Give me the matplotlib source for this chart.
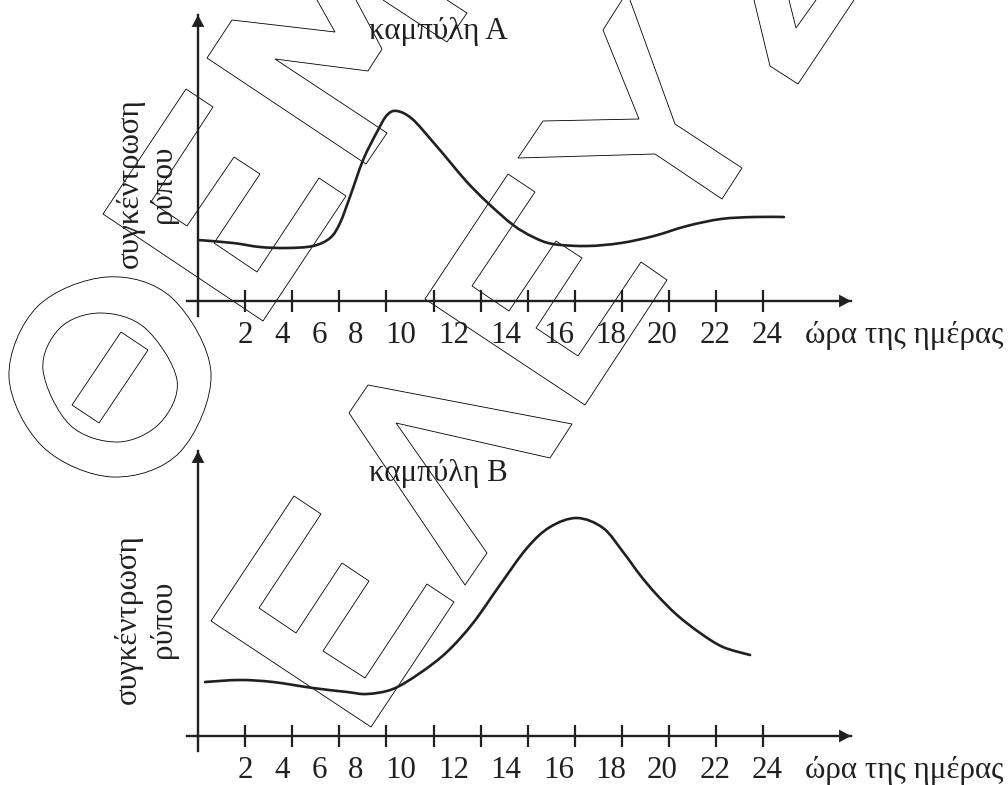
import matplotlib
matplotlib.use("Agg")
import matplotlib.pyplot as plt
from matplotlib.patches import Polygon, PathPatch
from matplotlib.path import Path

plt.rcParams['font.family'] = ['Liberation Serif', 'DejaVu Serif']

# curve values, hours along the axis and concentration (arbitrary units)
hours_a = [0.0, 1.49, 2.63, 3.78, 4.88, 5.61, 6.03, 6.45, 7.01, 7.6, 8.03, 8.45, 9.1, 9.98,
           10.7, 11.42, 12.31, 13.38, 14.23, 15.07, 16.52, 17.96, 19.36, 20.76, 22.21, 23.61, 24.88]
conc_a = [6.1, 5.8, 5.4, 5.3, 5.5, 6.3, 7.8, 10.4, 14.1, 16.9, 18.6, 19.0, 18.2, 15.9,
          13.9, 11.9, 9.8, 7.6, 6.4, 5.7, 5.5, 5.8, 6.5, 7.5, 8.2, 8.4, 8.4]
hours_b = [0.3, 1.78, 3.18, 4.88, 6.33, 7.18, 8.28, 9.43, 10.57, 11.68, 12.82, 13.97, 14.95,
           16.09, 17.2, 18.05, 18.77, 19.49, 20.34, 21.32, 22.29, 23.44]
conc_b = [5.4, 5.6, 5.4, 4.8, 4.4, 4.2, 4.7, 6.3, 8.4, 11.3, 15.1, 18.8, 20.9,
          21.8, 20.8, 18.4, 16.1, 14.1, 12.1, 10.3, 8.9, 8.1]

tick_hours = [2, 4, 6, 8, 10, 12, 14, 16, 18, 20, 22, 24]
tick_labels = ['2', '4', '6', '8', '10', '12', '14', '16', '18', '20', '22', '24']
# the labels in the picture do not sit under their ticks
label_shift = [2.0, 3.57, 5.14, 6.71, 8.62, 10.87, 13.05, 15.33, 17.54, 19.71, 21.97, 24.17]

W, H = 1008, 785
DARK = '#231f20'
PX_HOUR = 23.55
FS = 22.3


def smooth_path(pts, closed=False):
    # bezier pieces through the given points (catmull-rom handles)
    n = len(pts)
    verts = [pts[0]]
    codes = [Path.MOVETO]
    last = n if closed else n - 1
    for i in range(last):
        if closed:
            p0, p1, p2, p3 = pts[i - 1], pts[i], pts[(i + 1) % n], pts[(i + 2) % n]
        else:
            p0, p1, p2, p3 = pts[max(i - 1, 0)], pts[i], pts[i + 1], pts[min(i + 2, n - 1)]
        c1 = (p1[0] + (p2[0] - p0[0]) / 6, p1[1] + (p2[1] - p0[1]) / 6)
        c2 = (p2[0] - (p3[0] - p1[0]) / 6, p2[1] - (p3[1] - p1[1]) / 6)
        verts += [c1, c2, p2]
        codes += [Path.CURVE4] * 3
    return Path(verts, codes)


def panel(axis_y, tip_y, hours, conc, title, title_x, title_y):
    ax = fig.add_axes([198 / W, (H - axis_y) / H, (851 - 198) / W, (axis_y - tip_y) / H])
    ax.patch.set_alpha(0)
    ax.set_xlim(0, (851 - 198) / PX_HOUR)
    ax.set_ylim(0, (axis_y - tip_y) / 10)
    ax.spines[['top', 'right']].set_visible(False)
    ax.spines[['left', 'bottom']].set_linewidth(1.7)
    ax.spines[['left', 'bottom']].set_color(DARK)
    ax.set_yticks([])
    ax.set_xticks(tick_hours, [''] * len(tick_hours))
    ax.tick_params(axis='x', direction='inout', length=16, width=1.6, color=DARK)
    ax.add_patch(PathPatch(smooth_path(list(zip(hours, conc))), fill=False, ec=DARK, lw=1.9, capstyle='round'))

    # axes run a little past the origin
    ax.plot([-11 / PX_HOUR, 0], [0, 0], color=DARK, lw=1.7, clip_on=False)
    ax.plot([0, 0], [-1.5, 0], color=DARK, lw=1.7, clip_on=False)
    head = dict(arrowstyle='-|>,head_width=0.23,head_length=0.43', color=DARK, lw=0,
                shrinkA=0, shrinkB=0, mutation_scale=20)
    ax.annotate('', xy=(1, 0), xytext=(0.97, 0), xycoords='axes fraction', arrowprops=head)
    ax.annotate('', xy=(0, 1), xytext=(0, 0.93), xycoords='axes fraction', arrowprops=head)

    for x, s in zip(label_shift, tick_labels):
        ax.text(x, -3.45, s, ha='center', va='center', fontsize=FS, color=DARK)
    ax.text((805 - 198) / PX_HOUR, -3.45, 'ώρα της ημέρας', ha='left', va='center', fontsize=FS, color=DARK)
    ax.text((title_x - 198) / PX_HOUR, (axis_y - title_y) / 10, title, ha='center', va='center',
            fontsize=FS, color=DARK)
    return ax


fig = plt.figure(figsize=(W / 100, H / 100), dpi=100)

# watermark outlines, in picture pixels
over = fig.add_axes([0, 0, 1, 1])
over.set_xlim(0, W)
over.set_ylim(H, 0)
over.axis('off')
shapes = [
    [(317, 0), (335, 32), (232, 20), (207, 58), (366, 164), (387, 133), (275, 59), (368, 71), (382, 49), (356, 0)],
    [(383, 0), (447, 42), (467, 13), (447, 0)],
    [(186, 89), (213, 107), (151, 202), (187, 226), (234, 157), (260, 174), (214, 243), (257, 272),
     (319, 178), (346, 196), (263, 321), (103, 214)],
    [(425, 299), (508, 174), (535, 192), (472, 286), (509, 311), (556, 241), (582, 258), (536, 328),
     (578, 356), (641, 262), (667, 280), (585, 405)],
    [(622, 0), (603, 30), (639, 119), (543, 121), (518, 158), (655, 154), (722, 199), (742, 168), (675, 124), (630, 0)],
    [(754, 0), (770, 66), (798, 84), (854, 0)],
    [(789, 0), (796, 28), (816, 0)],
    [(121, 332), (148, 350), (99, 423), (72, 405)],
    [(349, 413), (368, 385), (572, 424), (550, 458), (396, 423), (487, 553), (465, 585)],
    [(294, 496), (321, 514), (259, 608), (296, 633), (342, 563), (369, 581), (323, 651), (365, 678),
     (427, 584), (454, 602), (371, 727), (211, 621)],
]
for pts in shapes:
    closed = pts[0][1] > 0 and pts[-1][1] > 0
    over.add_patch(Polygon(pts, closed=closed, fill=False, ec='black', lw=0.6))
ring_outer = [(107, 277), (172, 298), (211, 373), (180, 452), (113, 477), (43, 447), (9, 377), (37, 307)]
ring_inner = [(100, 313), (145, 328), (177, 380), (160, 423), (118, 442), (70, 425), (43, 370), (60, 328)]
for ring in (ring_outer, ring_inner):
    over.add_patch(PathPatch(smooth_path(ring, closed=True), fill=False, ec='black', lw=0.6))

panel(301, 15, hours_a, conc_a, 'καμπύλη Α', 438, 31)
panel(736, 451, hours_b, conc_b, 'καμπύλη Β', 438, 473)

# y labels are placed by hand, two lines at slightly different offsets
for x, y, s in [(130, 183, 'συγκέντρωση'), (163, 184, 'ρύπου'), (128, 619, 'συγκέντρωση'), (163, 619, 'ρύπου')]:
    over.text(x, y, s, rotation=90, ha='center', va='center', fontsize=FS, color=DARK)

fig.savefig('out.png', dpi=100)
